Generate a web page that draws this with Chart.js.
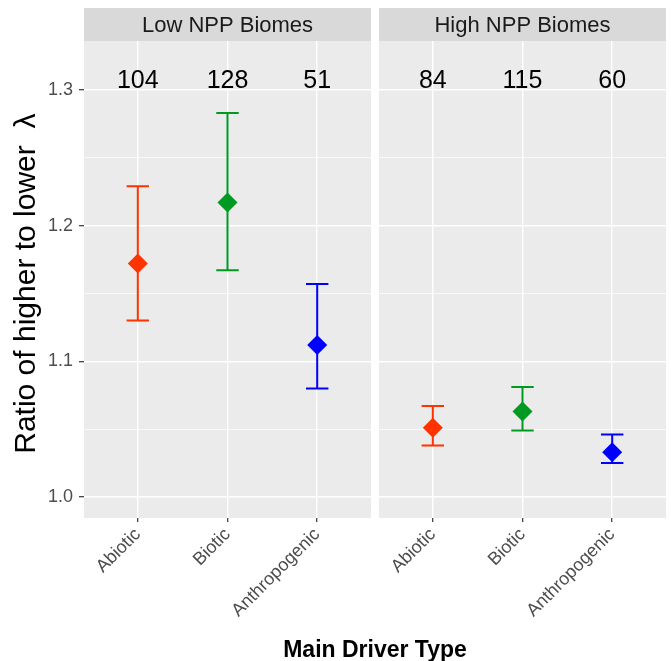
<!DOCTYPE html>
<html>
<head>
<meta charset="utf-8">
<script src="https://cdn.jsdelivr.net/npm/chart.js@4/dist/chart.umd.min.js"></script>
<style>
  html, body { margin: 0; padding: 0; background: #ffffff; overflow: hidden; }
  #wrap { position: relative; width: 671px; height: 661px; overflow: hidden; }
  #wrap canvas { position: absolute; left: 0; top: 0; }
</style>
</head>
<body>
<div id="wrap">
  <canvas id="c1" width="671" height="661"></canvas>
  <canvas id="c2" width="676" height="661"></canvas>
</div>
<script>
// ---------------- data ----------------
const categories = ["Abiotic", "Biotic", "Anthropogenic"];
const panels = ["Low NPP Biomes", "High NPP Biomes"];
const colors = ["#FF3300", "#009922", "#0000FF"];

const lowMean  = [1.172, 1.217, 1.112];
const lowUpper = [1.229, 1.283, 1.157];
const lowLower = [1.130, 1.167, 1.080];
const lowN     = [104, 128, 51];

const highMean  = [1.051, 1.063, 1.033];
const highUpper = [1.067, 1.081, 1.046];
const highLower = [1.038, 1.049, 1.025];
const highN     = [84, 115, 60];

const yTicks = [1.0, 1.05, 1.1, 1.15, 1.2, 1.25, 1.3];
const yMajor = [1.0, 1.1, 1.2, 1.3];

// ---------------- helpers ----------------
const Y_MIN = 0.9845, Y_MAX = 1.336;
const COUNT_Y = 1.3066;
const STRIP_H = 33;
const FONT = '"Liberation Sans", Arial, sans-serif';

const isMajor = v => yMajor.some(m => Math.abs(m - v) < 1e-6);

const panelPlugin = {
  id: 'panelBg',
  beforeDraw(chart) {
    const { ctx, chartArea: a } = chart;
    ctx.save();
    ctx.fillStyle = '#EBEBEB';
    ctx.fillRect(a.left, a.top, a.right - a.left, a.bottom - a.top);
    ctx.fillStyle = '#D9D9D9';
    ctx.fillRect(a.left, a.top - STRIP_H, a.right - a.left, STRIP_H);
    ctx.fillStyle = '#1A1A1A';
    ctx.font = '22px ' + FONT;
    ctx.textAlign = 'center';
    ctx.textBaseline = 'middle';
    ctx.fillText(chart.options.plugins.panelBg.title, (a.left + a.right) / 2, a.top - STRIP_H / 2 + 1);
    ctx.restore();
  }
};

const errorPlugin = {
  id: 'errBars',
  beforeDatasetsDraw(chart) {
    const o = chart.options.plugins.errBars;
    const { ctx, scales: { x, y } } = chart;
    ctx.save();
    ctx.lineWidth = 2;
    for (let i = 0; i < o.upper.length; i++) {
      const px = x.getPixelForValue(i);
      const pl = x.getPixelForValue(i - 0.125);
      const pr = x.getPixelForValue(i + 0.125);
      const yu = y.getPixelForValue(o.upper[i]);
      const yl = y.getPixelForValue(o.lower[i]);
      ctx.strokeStyle = colors[i];
      ctx.beginPath();
      ctx.moveTo(px, yu); ctx.lineTo(px, yl);
      ctx.moveTo(pl, yu); ctx.lineTo(pr, yu);
      ctx.moveTo(pl, yl); ctx.lineTo(pr, yl);
      ctx.stroke();
    }
    ctx.restore();
  },
  afterDatasetsDraw(chart) {
    const o = chart.options.plugins.errBars;
    const { ctx, scales: { x, y } } = chart;
    ctx.save();
    ctx.fillStyle = '#000000';
    ctx.font = '25px ' + FONT;
    ctx.textAlign = 'center';
    ctx.textBaseline = 'middle';
    for (let i = 0; i < o.n.length; i++) {
      ctx.fillText(String(o.n[i]), x.getPixelForValue(i), y.getPixelForValue(COUNT_Y));
    }
    if (o.xTitle) {
      ctx.font = 'bold 23px ' + FONT;
      ctx.fillStyle = '#000000';
      ctx.textBaseline = 'alphabetic';
      ctx.fillText('Main Driver Type', 375, 657);
    }
    ctx.restore();
  }
};

function makeChart(id, title, mean, upper, lower, n, isFirst) {
  const pts = mean.map((v, i) => ({ x: i, y: v }));
  return new Chart(document.getElementById(id), {
    type: 'scatter',
    data: {
      datasets: [{
        data: pts,
        pointStyle: 'rectRot',
        pointRadius: 10,
        pointHoverRadius: 10,
        pointBackgroundColor: colors,
        pointBorderColor: colors,
        pointBorderWidth: 0
      }]
    },
    options: {
      responsive: false,
      animation: false,
      events: [],
      layout: {
        padding: isFirst ? { top: 41, right: 300, left: 0, bottom: 0 }
                         : { top: 41, right: 4, left: 379, bottom: 0 }
      },
      plugins: {
        legend: { display: false },
        tooltip: { enabled: false },
        panelBg: { title: title },
        errBars: { upper: upper, lower: lower, n: n, xTitle: isFirst }
      },
      scales: {
        x: {
          type: 'linear',
          min: -0.6, max: 2.6,
          afterBuildTicks: s => { s.ticks = categories.map((c, i) => ({ value: i })); },
          afterFit: s => { s.height = 143; s.paddingLeft = 0; s.paddingRight = 0; },
          border: { display: false },
          grid: { color: '#FFFFFF', lineWidth: 1.4, tickColor: '#333333', tickLength: 4, tickWidth: 1.2 },
          ticks: {
            autoSkip: false,
            minRotation: 45, maxRotation: 45,
            padding: 2,
            color: '#4D4D4D',
            font: { family: FONT, size: 18 },
            callback: v => categories[v] ?? ''
          }
        },
        y: {
          type: 'linear',
          min: Y_MIN, max: Y_MAX,
          afterBuildTicks: s => { s.ticks = yTicks.map(v => ({ value: v })); },
          afterFit: s => { s.width = isFirst ? 84 : 0; s.paddingTop = 0; s.paddingBottom = 0; },
          border: { display: false },
          grid: {
            color: '#FFFFFF',
            lineWidth: c => isMajor(c.tick.value) ? 1.4 : 0.7,
            tickColor: c => isMajor(c.tick.value) ? '#333333' : 'rgba(0,0,0,0)',
            tickWidth: 1.2,
            tickLength: isFirst ? 5 : 0,
            drawTicks: isFirst
          },
          ticks: {
            display: isFirst,
            autoSkip: false,
            padding: 6,
            color: '#4D4D4D',
            font: { family: FONT, size: 18 },
            callback: v => isMajor(v) ? v.toFixed(1) : ''
          },
          title: {
            display: isFirst,
            text: 'Ratio of higher to lower  \u03BB ',
            color: '#000000',
            font: { family: FONT, size: 30 },
            padding: { top: 9, bottom: 0 }
          }
        }
      }
    },
    plugins: [panelPlugin, errorPlugin]
  });
}

makeChart('c1', panels[0], lowMean, lowUpper, lowLower, lowN, true);
makeChart('c2', panels[1], highMean, highUpper, highLower, highN, false);
</script>
</body>
</html>
